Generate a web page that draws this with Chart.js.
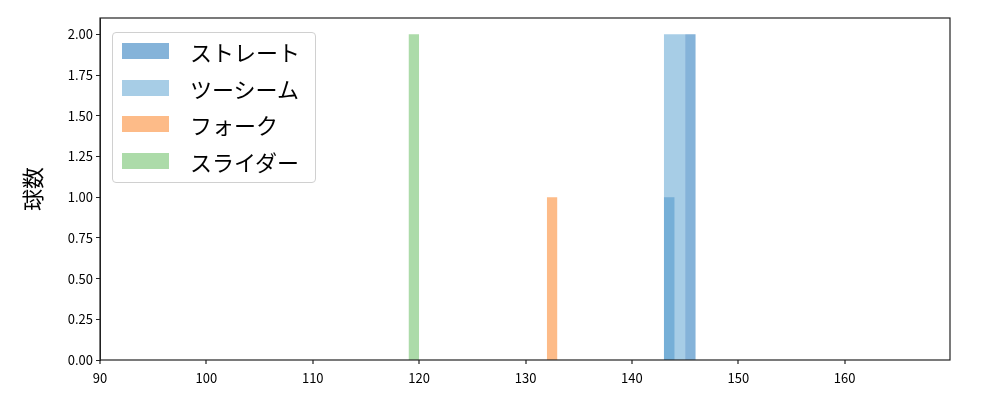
<!DOCTYPE html>
<html>
<head>
<meta charset="utf-8">
<script src="https://cdn.jsdelivr.net/npm/chart.js@4"></script>
<style>
  body { margin: 0; background: #fff; font-family: "Noto Sans CJK JP", sans-serif; }
  #wrap { position: relative; width: 1000px; height: 400px; }
  #legend { position: absolute; left: 112px; top: 32px; width: 202px; height: 149px;
    border: 1px solid #d0d0d0; border-radius: 4px; background: rgba(255,255,255,0.8); }
  .item { position: absolute; left: 0; height: 30px; width: 200px; }
  .sw { position: absolute; left: 9px; top: 7px; width: 47px; height: 16px; }
  .lb { position: absolute; left: 77px; top: 0; font-size: 22px; line-height: 30px; color: #000; white-space: nowrap; }
</style>
</head>
<body>
<div id="wrap">
  <canvas id="chart" width="1000" height="400"></canvas>
  <div id="legend"></div>
</div>
<script>
const seriesNames = ['ストレート', 'ツーシーム', 'フォーク', 'スライダー'];
const seriesColors = ['#85b3d9', 'rgba(108,172,213,0.6)', '#fdbb88', '#acdba9'];
const legendColors = ['#85b3d9', '#a7cde6', '#fdbb88', '#acdba9'];

// histogram bins: left edge, right edge, count
const straightLo = [143, 145];
const straightHi = [144, 146];
const straightCount = [1, 2];
const twoSeamLo = [143];
const twoSeamHi = [145];
const twoSeamCount = [2];
const forkLo = [132];
const forkHi = [133];
const forkCount = [1];
const sliderLo = [119];
const sliderHi = [120];
const sliderCount = [2];

const xTicks = [90, 100, 110, 120, 130, 140, 150, 160];
const yTicks = [0, 0.25, 0.5, 0.75, 1, 1.25, 1.5, 1.75, 2];

function steps(lo, hi, cnt) {
  let pts = [];
  for (let i = 0; i < lo.length; i++) {
    pts.push({x: lo[i], y: 0}, {x: lo[i], y: cnt[i]}, {x: hi[i], y: cnt[i]}, {x: hi[i], y: 0});
  }
  return pts;
}

const binData = [
  steps(straightLo, straightHi, straightCount),
  steps(twoSeamLo, twoSeamHi, twoSeamCount),
  steps(forkLo, forkHi, forkCount),
  steps(sliderLo, sliderHi, sliderCount)
];
const drawOrder = [4, 3, 2, 1];

const datasets = seriesNames.map((name, i) => ({
  label: name,
  data: binData[i],
  backgroundColor: seriesColors[i],
  borderWidth: 0,
  pointRadius: 0,
  fill: 'origin',
  tension: 0,
  order: drawOrder[i]
}));

// axes frame and x tick marks
const frame = {
  id: 'frame',
  afterDraw(chart) {
    const a = chart.chartArea, c = chart.ctx, xs = chart.scales.x;
    c.save();
    c.strokeStyle = '#222';
    c.lineWidth = 1.2;
    c.strokeRect(a.left, a.top, a.right - a.left, a.bottom - a.top);
    c.beginPath();
    xTicks.forEach(v => {
      const px = Math.round(xs.getPixelForValue(v));
      c.moveTo(px, a.bottom);
      c.lineTo(px, a.bottom + 4);
    });
    c.stroke();
    c.restore();
  }
};

new Chart(document.getElementById('chart'), {
  type: 'line',
  data: { datasets: datasets },
  options: {
    responsive: false,
    animation: false,
    layout: { padding: { left: 0, top: 18, right: 50, bottom: 0 } },
    plugins: { legend: { display: false }, tooltip: { enabled: false } },
    scales: {
      x: {
        type: 'linear',
        min: 90, max: 169.9,
        afterBuildTicks: s => { s.ticks = xTicks.map(v => ({value: v})); },
        grid: { display: false, tickLength: 4 },
        border: { display: false },
        ticks: { color: '#000', padding: 6, callback: v => String(v),
          font: { family: 'Noto Sans CJK JP', size: 13 } },
        afterFit: s => { s.height = 40; }
      },
      y: {
        type: 'linear',
        min: 0, max: 2.1,
        afterBuildTicks: s => { s.ticks = yTicks.map(v => ({value: v})); },
        grid: { drawOnChartArea: false, tickLength: 4, color: '#222' },
        border: { color: '#222' },
        ticks: { color: '#000', padding: 3, callback: v => v.toFixed(2),
          font: { family: 'Noto Sans CJK JP', size: 13 } },
        title: { display: true, text: '球数', color: '#000', padding: { top: 19, bottom: 0 },
          font: { family: 'Noto Sans CJK JP', size: 22 } },
        afterFit: s => { s.width = 100; }
      }
    }
  },
  plugins: [frame]
});

const legend = document.getElementById('legend');
seriesNames.forEach((name, i) => {
  const item = document.createElement('div');
  item.className = 'item';
  item.style.top = (3 + i * 36.5) + 'px';
  item.innerHTML = '<div class="sw" style="background:' + legendColors[i] + '"></div><div class="lb">' + name + '</div>';
  legend.appendChild(item);
});
</script>
</body>
</html>
